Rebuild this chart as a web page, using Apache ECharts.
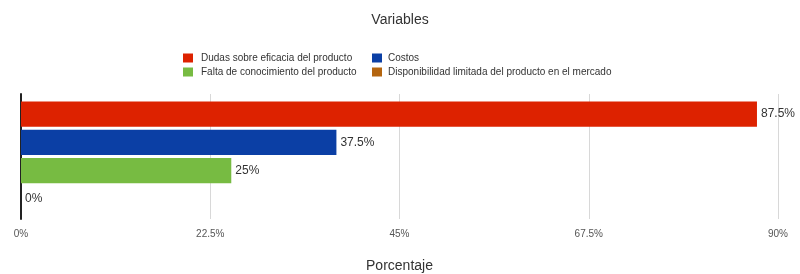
<!DOCTYPE html>
<html>
<head>
<meta charset="utf-8">
<script src="https://cdn.jsdelivr.net/npm/echarts@6/dist/echarts.min.js"></script>
<style>html,body{margin:0;padding:0;background:#fff}#chart{width:800px;height:274px}</style>
</head>
<body>
<div id="chart"></div>
<script>
// datos del grafico
let categories=["Variables"]
let seriesNames=["Dudas sobre eficacia del producto","Costos","Falta de conocimiento del producto","Disponibilidad limitada del producto en el mercado"]
let seriesValues=[87.5,37.5,25,0]
let seriesColors=["#dd2200","#0b3fa5","#77bb42","#b4650f"]
let axisTicks=[0,22.5,45,67.5,90]

let chart=echarts.init(document.getElementById("chart"))
let series=[]
for(let i=0;i<seriesNames.length;i++){
    series.push({
        name:seriesNames[i],
        type:'bar',
        data:[seriesValues[i]],
        itemStyle:{color:seriesColors[i]},
        barGap:'12%',
        barCategoryGap:'12%',
        label:{
            show:true,
            position:'right',
            distance:4,
            formatter:'{c}%',
            color:'#333',
            fontSize:12,
            fontFamily:'Liberation Sans'
        }
    })
}
let legendText={fontSize:10,color:'#333',fontFamily:'Liberation Sans',padding:[0,0,0,3]}
let legendText2={fontSize:10,color:'#333',fontFamily:'Liberation Sans',padding:[0,0,0,1]}
chart.setOption({
    animation:false,
    textStyle:{fontFamily:'Liberation Sans'},
    title:{
        text:'Variables',
        left:'center',
        top:8,
        textStyle:{fontSize:14,fontWeight:'normal',color:'#333'}
    },
    legend:[
        {data:[seriesNames[0],seriesNames[2]],orient:'vertical',left:178,top:48,itemWidth:10,itemHeight:9,itemGap:4,icon:'rect',textStyle:legendText},
        {data:[seriesNames[1],seriesNames[3]],orient:'vertical',left:367,top:48,itemWidth:10,itemHeight:9,itemGap:4,icon:'rect',textStyle:legendText2}
    ],
    grid:{left:21,right:22,top:94,bottom:53},
    xAxis:{
        type:'value',
        min:axisTicks[0],
        max:axisTicks[axisTicks.length-1],
        interval:22.5,
        name:'Porcentaje',
        nameLocation:'middle',
        nameGap:40,
        nameTextStyle:{fontSize:14,color:'#333'},
        axisLine:{show:false},
        axisTick:{show:false},
        axisLabel:{formatter:'{value}%',fontSize:10,color:'#555',margin:10},
        splitLine:{lineStyle:{color:'#d8d8d8'}}
    },
    yAxis:{
        type:'category',
        data:categories,
        inverse:true,
        axisLine:{lineStyle:{color:'#222',width:2}},
        axisTick:{show:false},
        axisLabel:{show:false}
    },
    series:series
})
</script>
</body>
</html>
